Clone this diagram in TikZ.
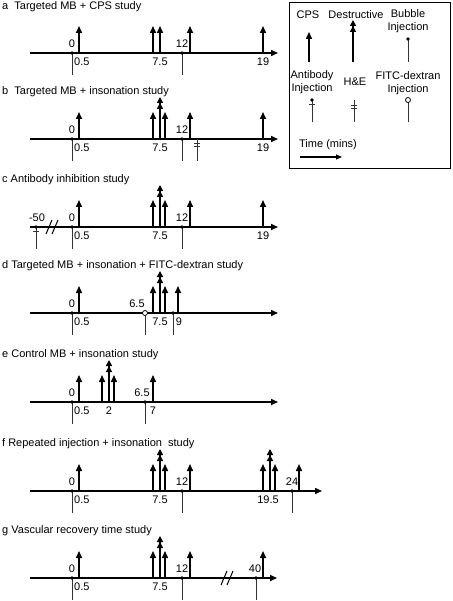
\documentclass[tikz,border=0pt]{standalone}
\usepackage{fontspec}
\setmainfont{Liberation Sans}
\usetikzlibrary{arrows.meta}
\begin{document}
\begin{tikzpicture}[x=1pt,y=-1pt,font=\fontsize{11}{13}\selectfont,
    every node/.style={inner sep=0pt},
    tline/.style={line width=1.5pt,-{Triangle[width=6pt,length=7pt]}},
    cps/.style={line width=1.5pt,-{Triangle[width=6pt,length=7pt]}},
    destr/.style={line width=1.5pt,-{Triangle[width=6pt,length=6pt]Triangle[width=6pt,length=6pt]}},
    inj/.style={line width=0.8pt,black!80},
    brk/.style={line width=1pt}]
    \useasboundingbox (0,0) rectangle (452,601);
    % a
    \node[anchor=west] (ta) at (2,7) {a\ \ Targeted MB + CPS study};
    \draw[tline] (30,53) -- (278,53);
    \draw[inj] (72,53) -- (72,75);
    \fill (72,53) circle (1.8);
    \draw[inj] (182,53) -- (182,75);
    \fill (182,53) circle (1.8);
    \draw[cps] (79,53) -- (79,26);
    \draw[cps] (153,53) -- (153,26);
    \draw[cps] (160,53) -- (160,26);
    \draw[cps] (190,53) -- (190,26);
    \draw[cps] (263,53) -- (263,26);
    \node (a0) at (72,44) {0};
    \node[anchor=west] (a05) at (74,62) {0.5};
    \node (a75) at (160,62) {7.5};
    \node (a12) at (182,44) {12};
    \node (a19) at (263,62) {19};
    % b
    \node[anchor=west] (tb) at (2,92) {b\ \ Targeted MB + insonation study};
    \draw[tline] (30,139) -- (278,139);
    \draw[inj] (72,139) -- (72,161);
    \fill (72,139) circle (1.8);
    \draw[inj] (182,139) -- (182,161);
    \fill (182,139) circle (1.8);
    \draw[inj] (197,139) -- (197,161);
    \draw[inj] (194,143) -- (200,143);
    \draw[inj] (194,146.5) -- (200,146.5);
    \draw[cps] (79,139) -- (79,112);
    \draw[cps] (153,139) -- (153,112);
    \draw[destr] (160,139) -- (160,97);
    \draw[cps] (165,139) -- (165,112);
    \draw[cps] (190,139) -- (190,112);
    \draw[cps] (263,139) -- (263,112);
    \node (b0) at (72,130) {0};
    \node[anchor=west] (b05) at (74,148) {0.5};
    \node (b75) at (160,148) {7.5};
    \node (b12) at (182,130) {12};
    \node (b19) at (263,148) {19};
    % c
    \node[anchor=west] (tc) at (2,180) {c Antibody inhibition study};
    \draw[tline] (30,227) -- (278,227);
    \draw[inj] (36,227) -- (36,249);
    \fill (36,227) circle (1.8);
    \draw[inj] (33,231) -- (39,231);
    \draw[brk] (46,234) -- (52,220);
    \draw[brk] (52,234) -- (58,220);
    \draw[inj] (72,227) -- (72,249);
    \fill (72,227) circle (1.8);
    \draw[inj] (182,227) -- (182,249);
    \fill (182,227) circle (1.8);
    \draw[cps] (79,227) -- (79,200);
    \draw[cps] (153,227) -- (153,200);
    \draw[destr] (160,227) -- (160,185);
    \draw[cps] (165,227) -- (165,200);
    \draw[cps] (190,227) -- (190,200);
    \draw[cps] (263,227) -- (263,200);
    \node (cm50) at (37,218) {-50};
    \node (c0) at (72,218) {0};
    \node[anchor=west] (c05) at (74,236) {0.5};
    \node (c75) at (160,236) {7.5};
    \node (c12) at (182,218) {12};
    \node (c19) at (263,236) {19};
    % d
    \node[anchor=west] (td) at (2,266) {d Targeted MB + insonation + FITC-dextran study};
    \draw[tline] (30,313) -- (278,313);
    \draw[inj] (72,313) -- (72,335);
    \fill (72,313) circle (1.8);
    \draw[inj] (145,315.5) -- (145,335);
    \draw[line width=0.8pt,fill=white] (145,313) circle (2.5);
    \draw[inj] (173,313) -- (173,335);
    \fill (173,313) circle (1.8);
    \draw[cps] (79,313) -- (79,286);
    \draw[cps] (153,313) -- (153,286);
    \draw[destr] (160,313) -- (160,271);
    \draw[cps] (165,313) -- (165,286);
    \draw[cps] (178,313) -- (178,286);
    \node (d0) at (72,304) {0};
    \node[anchor=west] (d05) at (74,322) {0.5};
    \node (d65) at (137,304) {6.5};
    \node (d75) at (160,322) {7.5};
    \node (d9) at (179,322) {9};
    % e
    \node[anchor=west] (te) at (2,355) {e Control MB + insonation study};
    \draw[tline] (30,402) -- (278,402);
    \draw[inj] (72,402) -- (72,424);
    \fill (72,402) circle (1.8);
    \draw[inj] (145,402) -- (145,424);
    \fill (145,402) circle (1.8);
    \draw[cps] (79,402) -- (79,375);
    \draw[cps] (102,402) -- (102,375);
    \draw[destr] (109,402) -- (109,360);
    \draw[cps] (114,402) -- (114,375);
    \draw[cps] (153,402) -- (153,375);
    \node (e0) at (72,393) {0};
    \node[anchor=west] (e05) at (74,411) {0.5};
    \node (e2) at (109,411) {2};
    \node (e65) at (142,393) {6.5};
    \node (e7) at (153,411) {7};
    % f
    \node[anchor=west] (tf) at (2,444) {f Repeated injection + insonation\ \ study};
    \draw[tline] (30,491) -- (322,491);
    \draw[inj] (72,491) -- (72,513);
    \fill (72,491) circle (1.8);
    \draw[inj] (182,491) -- (182,513);
    \fill (182,491) circle (1.8);
    \draw[inj] (292,491) -- (292,513);
    \fill (292,491) circle (1.8);
    \draw[cps] (79,491) -- (79,464);
    \draw[cps] (153,491) -- (153,464);
    \draw[destr] (160,491) -- (160,449);
    \draw[cps] (165,491) -- (165,464);
    \draw[cps] (190,491) -- (190,464);
    \draw[cps] (263,491) -- (263,464);
    \draw[destr] (270,491) -- (270,449);
    \draw[cps] (275,491) -- (275,464);
    \draw[cps] (299,491) -- (299,464);
    \node (f0) at (72,482) {0};
    \node[anchor=west] (f05) at (74,500) {0.5};
    \node (f75) at (160,500) {7.5};
    \node (f12) at (182,482) {12};
    \node (f195) at (268,500) {19.5};
    \node (f24) at (292,482) {24};
    % g
    \node[anchor=west] (tg) at (2,531) {g Vascular recovery time study};
    \draw[tline] (30,578) -- (277,578);
    \draw[brk] (221,585) -- (227,571);
    \draw[brk] (227,585) -- (233,571);
    \draw[inj] (72,578) -- (72,600);
    \fill (72,578) circle (1.8);
    \draw[inj] (182,578) -- (182,600);
    \fill (182,578) circle (1.8);
    \draw[inj] (256,578) -- (256,600);
    \fill (256,578) circle (1.8);
    \draw[cps] (79,578) -- (79,551);
    \draw[cps] (153,578) -- (153,551);
    \draw[destr] (160,578) -- (160,536);
    \draw[cps] (165,578) -- (165,551);
    \draw[cps] (190,578) -- (190,551);
    \draw[cps] (263,578) -- (263,551);
    \node (g0) at (72,569) {0};
    \node[anchor=west] (g05) at (74,587) {0.5};
    \node (g75) at (160,587) {7.5};
    \node (g12) at (182,569) {12};
    \node (g40) at (255,569) {40};
    % legend
    \draw[line width=0.8pt] (289,2) rectangle (450,168);
    \node (lcps) at (308,15) {CPS};
    \node (ldes) at (356,15) {Destructive};
    \node[align=center] (lbub) at (408,21.5) {Bubble\\Injection};
    \draw[cps] (309,62) -- (309,32);
    \draw[destr] (353,62) -- (353,20);
    \draw[inj] (408,39) -- (408,62);
    \fill (408,39) circle (1.8);
    \node[align=center] (lab) at (312,82) {Antibody\\Injection};
    \node (lhe) at (355,82) {H\&E};
    \node[align=center] (lfi) at (408,83.5) {FITC-dextran\\Injection};
    \draw[inj] (312,100) -- (312,122);
    \fill (312,100) circle (1.8);
    \draw[inj] (309,104.5) -- (315,104.5);
    \draw[inj] (354,100) -- (354,122);
    \draw[inj] (351,105) -- (357,105);
    \draw[inj] (351,108.5) -- (357,108.5);
    \draw[inj] (408,102.5) -- (408,122);
    \draw[line width=0.8pt,fill=white] (408,100) circle (2.5);
    \node (ltime) at (328,145) {Time (mins)};
    \draw[line width=1.2pt,-{Triangle[width=5pt,length=6pt]}] (300,157) -- (342,157);
\end{tikzpicture}
\end{document}
